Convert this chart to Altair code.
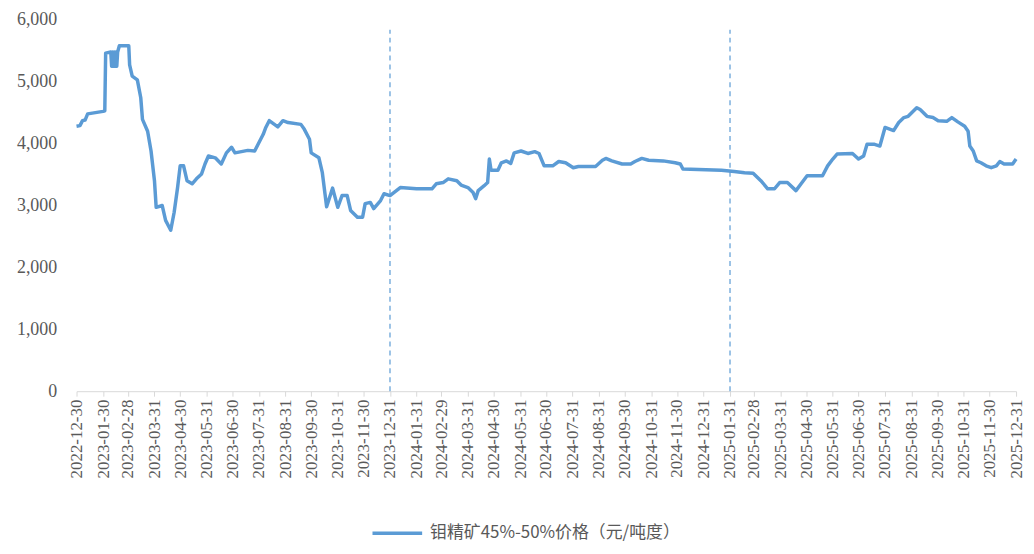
import altair as alt
import pandas as pd

series_name = "钼精矿45%-50%价格（元/吨度）"

dates = [
    "2022-12-30", "2023-01-03", "2023-01-06", "2023-01-09", "2023-01-12", "2023-01-30",
    "2023-02-01", "2023-02-02", "2023-02-08", "2023-02-09", "2023-02-10", "2023-02-11",
    "2023-02-12", "2023-02-13", "2023-02-14", "2023-02-15", "2023-02-16", "2023-02-18",
    "2023-03-01", "2023-03-02", "2023-03-05", "2023-03-11", "2023-03-15", "2023-03-17",
    "2023-03-23", "2023-03-27", "2023-03-31", "2023-04-02", "2023-04-09", "2023-04-13",
    "2023-04-19", "2023-04-23", "2023-04-27", "2023-04-30", "2023-05-04", "2023-05-08",
    "2023-05-14", "2023-05-19", "2023-05-25", "2023-05-29", "2023-06-02", "2023-06-10",
    "2023-06-17", "2023-06-23", "2023-06-29", "2023-07-03", "2023-07-18", "2023-07-26",
    "2023-07-30", "2023-08-05", "2023-08-08", "2023-08-12", "2023-08-18", "2023-08-22",
    "2023-08-28", "2023-09-03", "2023-09-18", "2023-09-22", "2023-09-28", "2023-09-30",
    "2023-10-09", "2023-10-13", "2023-10-18", "2023-10-25", "2023-10-31", "2023-11-05",
    "2023-11-11", "2023-11-15", "2023-11-23", "2023-11-29", "2023-12-02", "2023-12-08",
    "2023-12-12", "2023-12-20", "2023-12-24", "2023-12-31", "2024-01-12", "2024-01-31",
    "2024-02-18", "2024-02-23", "2024-03-02", "2024-03-08", "2024-03-18", "2024-03-23",
    "2024-03-31", "2024-04-06", "2024-04-09", "2024-04-12", "2024-04-19", "2024-04-23",
    "2024-04-25", "2024-04-27", "2024-05-05", "2024-05-09", "2024-05-15", "2024-05-20",
    "2024-05-24", "2024-06-01", "2024-06-09", "2024-06-17", "2024-06-22", "2024-06-28",
    "2024-07-08", "2024-07-15", "2024-07-23", "2024-08-01", "2024-08-07", "2024-08-27",
    "2024-09-04", "2024-09-08", "2024-09-15", "2024-09-27", "2024-10-07", "2024-10-12",
    "2024-10-20", "2024-10-28", "2024-11-14", "2024-11-28", "2024-12-04", "2024-12-07",
    "2025-01-21", "2025-02-05", "2025-02-17", "2025-02-27", "2025-03-08", "2025-03-16",
    "2025-03-24", "2025-03-30", "2025-04-08", "2025-04-18", "2025-04-24", "2025-05-01",
    "2025-05-19", "2025-05-25", "2025-05-31", "2025-06-05", "2025-06-23", "2025-06-30",
    "2025-07-06", "2025-07-10", "2025-07-18", "2025-07-25", "2025-07-31", "2025-08-10",
    "2025-08-16", "2025-08-22", "2025-08-27", "2025-09-06", "2025-09-10", "2025-09-18",
    "2025-09-25", "2025-10-01", "2025-10-11", "2025-10-17", "2025-10-24", "2025-11-01",
    "2025-11-05", "2025-11-07", "2025-11-11", "2025-11-15", "2025-11-20", "2025-11-26",
    "2025-12-02", "2025-12-08", "2025-12-12", "2025-12-17", "2025-12-27", "2025-12-31",
]

prices = [
    4280, 4290, 4370, 4380, 4480, 4520,
    4530, 5460, 5480, 5250, 5480, 5250,
    5480, 5250, 5480, 5250, 5480, 5580,
    5580, 5270, 5090, 5030, 4740, 4390,
    4200, 3880, 3400, 2970, 3000, 2760,
    2600, 2890, 3290, 3640, 3640, 3400,
    3350, 3430, 3510, 3670, 3800, 3770,
    3670, 3850, 3940, 3850, 3890, 3880,
    3990, 4150, 4260, 4370, 4310, 4270,
    4370, 4340, 4310, 4230, 4070, 3850,
    3770, 3530, 2980, 3280, 2970, 3160,
    3160, 2920, 2810, 2810, 3030, 3050,
    2950, 3080, 3190, 3160, 3290, 3270,
    3270, 3350, 3370, 3430, 3400, 3330,
    3290, 3210, 3110, 3240, 3320, 3370,
    3750, 3570, 3570, 3690, 3720, 3680,
    3850, 3880, 3840, 3870, 3840, 3640,
    3640, 3710, 3690, 3610, 3630, 3630,
    3730, 3760, 3720, 3670, 3670, 3710,
    3760, 3730, 3720, 3690, 3670, 3590,
    3570, 3550, 3530, 3520, 3400, 3270,
    3270, 3370, 3370, 3240, 3350, 3480,
    3480, 3640, 3750, 3830, 3840, 3750,
    3800, 3990, 3990, 3960, 4260, 4210,
    4340, 4420, 4440, 4580, 4550, 4440,
    4420, 4370, 4360, 4420, 4350, 4280,
    4200, 3960, 3880, 3720, 3690, 3640,
    3610, 3640, 3710, 3670, 3670, 3750,
]

tick_labels = [
    "2022-12-30", "2023-01-30", "2023-02-28", "2023-03-31", "2023-04-30", "2023-05-31",
    "2023-06-30", "2023-07-31", "2023-08-31", "2023-09-30", "2023-10-31", "2023-11-30",
    "2023-12-31", "2024-01-31", "2024-02-29", "2024-03-31", "2024-04-30", "2024-05-31",
    "2024-06-30", "2024-07-31", "2024-08-31", "2024-09-30", "2024-10-31", "2024-11-30",
    "2024-12-31", "2025-01-31", "2025-02-28", "2025-03-31", "2025-04-30", "2025-05-31",
    "2025-06-30", "2025-07-31", "2025-08-31", "2025-09-30", "2025-10-31", "2025-11-30",
    "2025-12-31",
]

marker_dates = ["2023-12-31", "2025-01-31"]
marker_top = [5840, 5840]

y_ticks = [0, 1000, 2000, 3000, 4000, 5000, 6000]


def to_dt(s):
    y, m, d = (int(p) for p in s.split("-"))
    return alt.DateTime(year=y, month=m, date=d, utc=True)


df = pd.DataFrame({"date": dates, "price": prices, "series": series_name})
rules_df = pd.DataFrame({"date": marker_dates, "y0": [0] * len(marker_dates), "y1": marker_top})

LINE_COLOR = "#5B9BD5"
LABEL_COLOR = "#595959"
SERIF = "Liberation Serif"

x_scale = alt.Scale(domain=[to_dt(tick_labels[0]), to_dt(tick_labels[-1])])
y_scale = alt.Scale(domain=[0, 6000], nice=False)

x_axis = alt.Axis(
    values=[to_dt(t) for t in tick_labels],
    format="%Y-%m-%d",
    labelAngle=270,
    labelFont=SERIF,
    labelFontSize=17,
    labelColor=LABEL_COLOR,
    labelPadding=3,
    labelOverlap=False,
    labelFlush=False,
    domainColor="#D9D9D9",
    tickColor="#D9D9D9",
    tickSize=5,
    grid=False,
    title=None,
)

y_axis = alt.Axis(
    values=y_ticks,
    format=",.0f",
    labelFont=SERIF,
    labelFontSize=18,
    labelColor=LABEL_COLOR,
    labelPadding=20,
    domain=False,
    ticks=False,
    grid=False,
    title=None,
)

line = alt.Chart(df).mark_line(strokeWidth=3.5, strokeJoin="round").encode(
    x=alt.X("date:T", timeUnit="utcyearmonthdate", scale=x_scale, axis=x_axis),
    y=alt.Y("price:Q", scale=y_scale, axis=y_axis),
    color=alt.Color(
        "series:N",
        scale=alt.Scale(range=[LINE_COLOR]),
        legend=alt.Legend(
            title=None,
            orient="none",
            legendX=296,
            legendY=490,
            symbolType="stroke",
            symbolSize=2500,
            symbolStrokeWidth=3.5,
            labelFont="Noto Sans CJK SC",
            labelFontSize=17,
            labelColor=LABEL_COLOR,
            labelOffset=6,
            labelLimit=600,
            padding=0,
        ),
    ),
)

rules = alt.Chart(rules_df).mark_rule(
    color=LINE_COLOR, strokeWidth=1.2, strokeDash=[5, 4]
).encode(
    x=alt.X("date:T", timeUnit="utcyearmonthdate", scale=x_scale, axis=x_axis),
    y=alt.Y("y0:Q", scale=y_scale, axis=y_axis),
    y2="y1:Q",
)

chart = (
    alt.layer(rules, line)
    .properties(
        width=946,
        height=374,
        padding={"left": 69, "top": 10, "right": 10, "bottom": 150},
        autosize=alt.AutoSizeParams(type="none"),
        background="white",
    )
    .configure_view(stroke=None)
)

chart.save("out.html", embed_options={"renderer": "svg", "actions": False})
